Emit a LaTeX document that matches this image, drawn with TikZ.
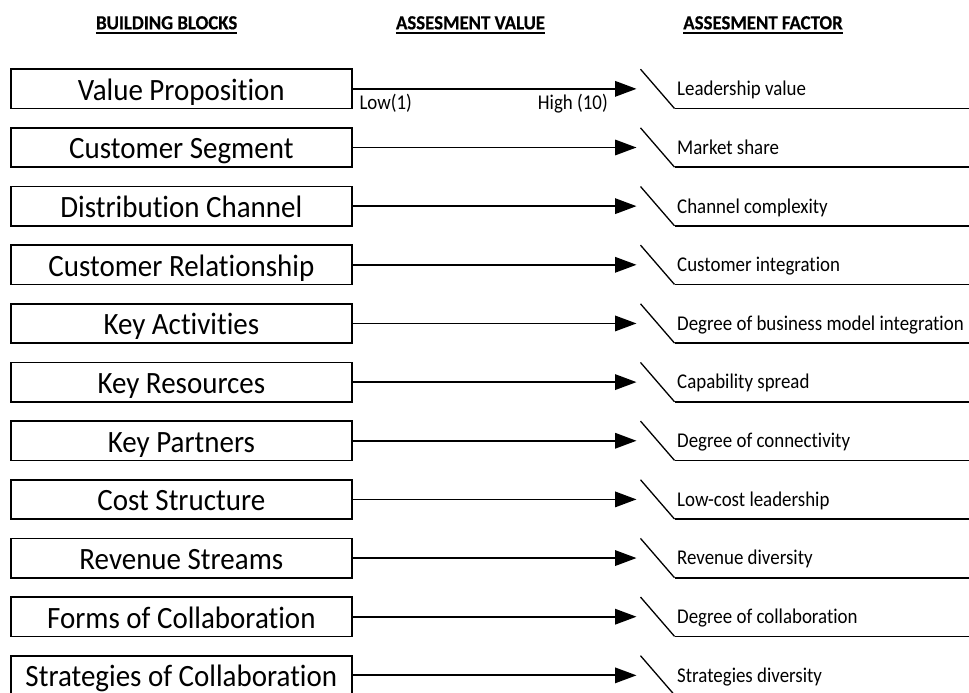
\documentclass[tikz,border=0pt]{standalone}
\usepackage{fontspec}
\setmainfont{Carlito}[FakeStretch=0.9,Ligatures=NoCommon]
\newfontfamily\boxfont{Carlito}[FakeStretch=0.935,Ligatures=NoCommon]
\newfontfamily\hdrfont{Carlito}[FakeStretch=0.94,Ligatures=NoCommon,FakeBold=0.4]
\usetikzlibrary{arrows.meta}
\begin{document}
\begin{tikzpicture}[x=1pt,y=-1pt,
  box/.style={draw,line width=1.6pt,minimum width=340.7pt,inner sep=0pt,
    text height=31pt,text depth=8.3pt,font=\boxfont\fontsize{31}{37}\selectfont},
  arr/.style={line width=1.8pt,-{Triangle[length=21.5pt,width=15.5pt]}},
  slashline/.style={line width=1.3pt},
  factor/.style={anchor=base west,inner sep=0pt,font=\fontsize{21}{25}\selectfont},
  scale lbl/.style={inner sep=0pt,font=\fontsize{21}{25}\selectfont},
  hdr/.style={anchor=base,inner sep=0pt,font=\hdrfont\fontsize{20}{24}\selectfont\bfseries},
  hdrline/.style={line width=1.6pt}]
\clip (0,0) rectangle (969,693);
% headers
\node[hdr] (h1) at (166.7,29.3) {BUILDING BLOCKS};
\node[hdr] (h2) at (470.5,29.3) {ASSESMENT VALUE};
\node[hdr] (h3) at (763,29.3) {ASSESMENT FACTOR};
\foreach \h in {h1,h2,h3}
  \draw[hdrline] ([yshift=-3.6pt]\h.base west) -- ([yshift=-3.6pt]\h.base east);
% rows
\foreach \i/\b/\f in {
  1/Value Proposition/Leadership value,
  2/Customer Segment/Market share,
  3/Distribution Channel/Channel complexity,
  4/Customer Relationship/Customer integration,
  5/Key Activities/Degree of business model integration,
  6/Key Resources/Capability spread,
  7/Key Partners/Degree of connectivity,
  8/Cost Structure/Low-cost leadership,
  9/Revenue Streams/Revenue diversity,
  10/Forms of Collaboration/Degree of collaboration,
  11/Strategies of Collaboration/Strategies diversity} {
  \pgfmathsetmacro\rtop{69.2+58.65*(\i-1)}
  \node[box] (b\i) at (181.35,\rtop+19.65) {\b};
  \coordinate (t\i) at (636.5,\rtop+19.65);
  \draw[arr] (b\i.east) -- (t\i);
  \coordinate (s\i) at (640.5,\rtop);
  \coordinate (u\i) at (674.5,\rtop+39.3);
  \coordinate (r\i) at (975,\rtop+39.3);
  \draw[slashline] (s\i) -- (u\i);
  \draw[line width=1.7pt] (u\i) -- (r\i);
  \node[factor] (f\i) at (677,\rtop+26.5) {\f};
}
% scale labels
\node[scale lbl,anchor=base west] (lo) at (359.3,109) {Low(1)};
\node[scale lbl,anchor=base east] (hi) at (608,109) {High (10)};
\end{tikzpicture}
\end{document}
